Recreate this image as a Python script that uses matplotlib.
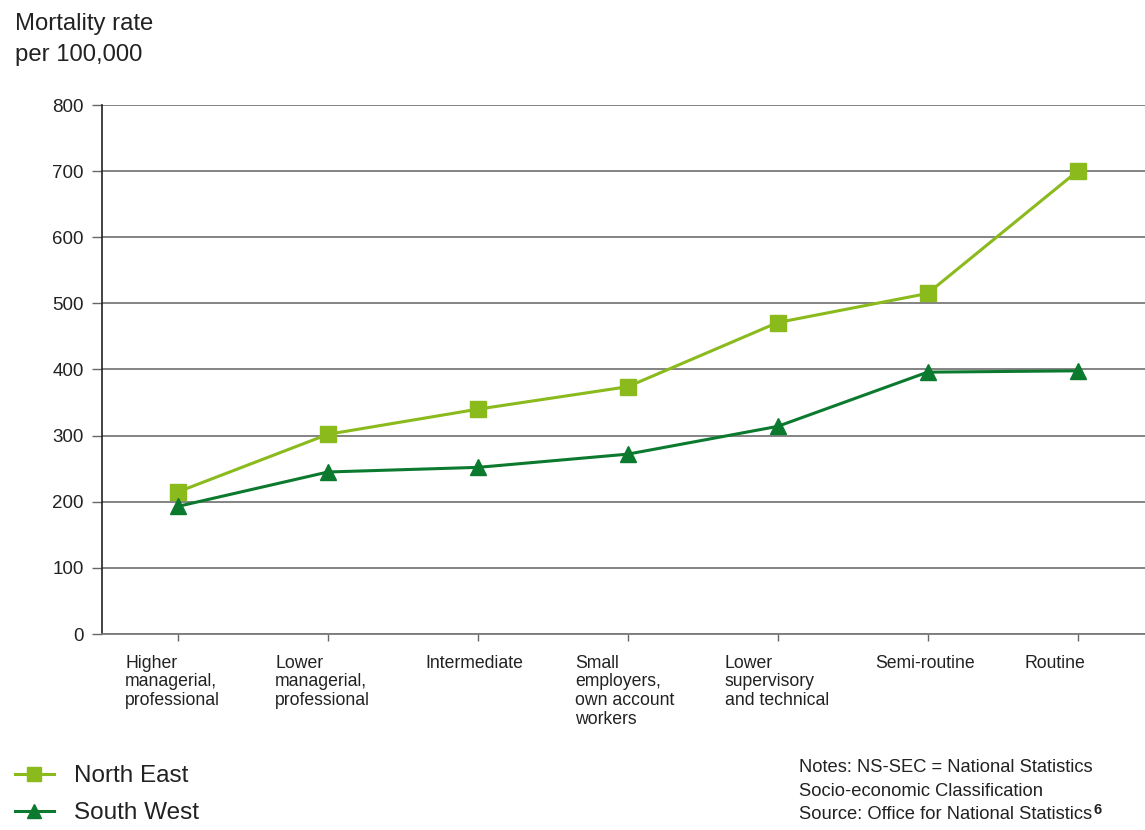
import matplotlib
matplotlib.use("Agg")
import matplotlib.pyplot as plt

categories = ["Higher\nmanagerial,\nprofessional", "Lower\nmanagerial,\nprofessional",
              "Intermediate", "Small\nemployers,\nown account\nworkers",
              "Lower\nsupervisory\nand technical", "Semi-routine", "Routine"]
north_east = [215, 302, 340, 374, 471, 515, 700]
south_west = [193, 245, 252, 272, 314, 396, 398]
yticks = [0, 100, 200, 300, 400, 500, 600, 700, 800]

plt.rcParams["font.family"] = ["Liberation Sans", "DejaVu Sans"]
NE_COL = "#8aba1c"
SW_COL = "#0b7a2e"
TXT = "#222222"

fig = plt.figure(figsize=(11.45, 8.3), dpi=100)
ax = fig.add_axes([102 / 1145, 1 - 634 / 830, 1 - 102 / 1145, (634 - 105) / 830])

x = list(range(len(categories)))
ax.plot(x, north_east, "-s", color=NE_COL, lw=2.2, ms=11, label="North East", zorder=3, clip_on=False)
ax.plot(x, south_west, "-^", color=SW_COL, lw=2.2, ms=11, label="South West", zorder=3, clip_on=False)

ax.set_xlim(-0.507, 6.45)
ax.set_ylim(0, 800)
ax.set_yticks(yticks)
ax.set_xticks(x)
ax.set_xticklabels([])
# category labels are left aligned, starting a bit left of each tick
for xi, cat in zip(x, categories):
    ax.annotate(cat, (xi, 0), xycoords=("data", "axes fraction"),
                xytext=(-38, -15), textcoords="offset points",
                ha="left", va="top", fontsize=12.7, color=TXT, linespacing=1.12)
ax.tick_params(axis="y", labelsize=13.5, labelcolor=TXT, length=7, width=1, color="#666666", pad=6)
ax.tick_params(axis="x", length=5, width=1, color="#666666")

ax.grid(axis="y", color="#7a7a7a", lw=1.3, zorder=0)
for s in ["top", "right"]:
    ax.spines[s].set_visible(False)
ax.spines["left"].set_color("#222222")
ax.spines["left"].set_linewidth(1.2)
ax.spines["bottom"].set_color("#7a7a7a")
ax.spines["bottom"].set_linewidth(1.3)

fig.text(15 / 1145, 1 - 13 / 830, "Mortality rate\nper 100,000", ha="left", va="top",
         fontsize=17.2, color=TXT, linespacing=1.5)

handles, labels = ax.get_legend_handles_labels()
fig.legend(handles, labels, loc="upper left", bbox_to_anchor=(-0.002, 1 - 748 / 830),
           frameon=False, fontsize=17.5, handlelength=1.6, handletextpad=0.85,
           labelspacing=0.62, labelcolor=TXT, borderaxespad=0.3, markerscale=0.9)

notes = ["Notes: NS-SEC = National Statistics", "Socio-economic Classification",
         "Source: Office for National Statistics"]
for i, line in enumerate(notes):
    t = fig.text(799 / 1145, 1 - (772 + 23.5 * i) / 830, line, ha="left", va="baseline",
                 fontsize=13.2, color=TXT)
ax.annotate("6", (1, 0), xycoords=t, xytext=(1, 4.5), textcoords="offset points",
            ha="left", va="bottom", fontsize=10.5, fontweight="bold", color=TXT,
            annotation_clip=False)

fig.savefig("out.png", dpi=100)
